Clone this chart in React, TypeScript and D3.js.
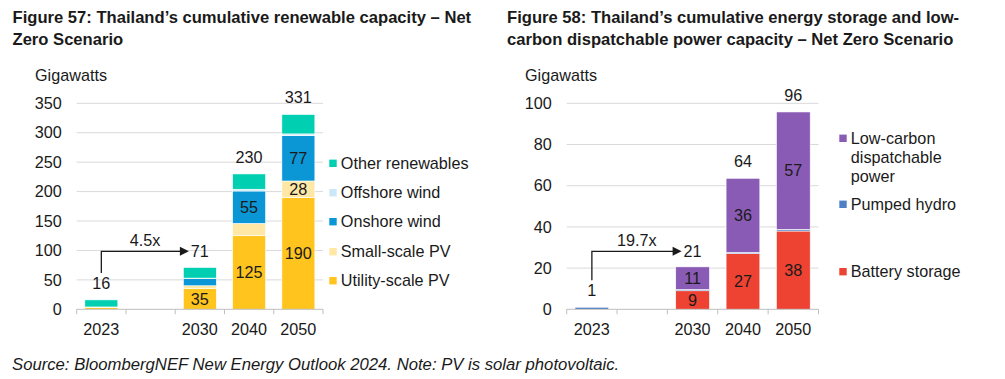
import React from "react";
import * as d3 from "d3";

// ---------- Data ----------
const leftCategories = ["2023", "gap", "2030", "2040", "2050"];
const leftCategoryLabels = ["2023", "", "2030", "2040", "2050"];
const leftSeriesNames = ["Utility-scale PV", "Small-scale PV", "Onshore wind", "Offshore wind", "Other renewables"];
const utilityPV = [3, 0, 35, 125, 190];
const smallPV = [1, 0, 5, 21, 28];
const onshoreWind = [0, 0, 12, 55, 77];
const offshoreWind = [0, 0, 1, 3, 3];
const otherRenewables = [12, 0, 18, 26, 33];
const leftTicks = [0, 50, 100, 150, 200, 250, 300, 350];
const leftLabelled: Record<string, string[]> = {
  "Utility-scale PV": ["2030", "2040", "2050"],
  "Small-scale PV": ["2050"],
  "Onshore wind": ["2040", "2050"],
};

const rightCategories = ["2023", "gap", "2030", "2040", "2050"];
const rightCategoryLabels = ["2023", "", "2030", "2040", "2050"];
const rightSeriesNames = ["Battery storage", "Pumped hydro", "Low-carbon dispatchable power"];
const batteryStorage = [0, 0, 9, 27, 38];
const pumpedHydro = [1, 0, 0.6, 0.6, 0.8];
const lowCarbon = [0, 0, 11, 36, 57];
const rightTicks = [0, 20, 40, 60, 80, 100];
const rightLabelled: Record<string, string[]> = {
  "Battery storage": ["2030", "2040", "2050"],
  "Low-carbon dispatchable power": ["2030", "2040", "2050"],
};

const leftGrowth = "4.5x";
const rightGrowth = "19.7x";

// ---------- Styles ----------
const FONT = "'Liberation Sans', Arial, Helvetica, sans-serif";
const TEXT = "#1a1a1a";
const GRID = "#d9d9d9";
const AXIS = "#bfbfbf";
const FS = 16.2;
const leftColors: Record<string, string> = {
  "Utility-scale PV": "#ffc51e",
  "Small-scale PV": "#ffe8a6",
  "Onshore wind": "#0b97d5",
  "Offshore wind": "#cce8f6",
  "Other renewables": "#00cfb2",
};
const rightColors: Record<string, string> = {
  "Battery storage": "#ee4233",
  "Pumped hydro": "#4d80c4",
  "Low-carbon dispatchable power": "#8a5bb4",
};

type PanelProps = {
  categories: string[];
  catLabels: string[];
  seriesNames: string[];
  values: number[][];
  colors: Record<string, string>;
  labelled: Record<string, string[]>;
  ticks: number[];
  yMax: number;
  x0: number;
  x1: number;
  growth: string;
  legend: { name: string; lines: string[]; y: number }[];
  legendX: number;
};

function Panel(p: PanelProps) {
  const top = 103.3;
  const bottom = 309.3;
  const y = d3.scaleLinear().domain([0, p.yMax]).range([bottom, top]);
  const x = d3
    .scaleBand<string>()
    .domain(p.categories)
    .range([p.x0, p.x1])
    .paddingInner(0.33)
    .paddingOuter(0.165);
  const step = x.step();
  const bw = x.bandwidth();
  const boundaries = d3.range(p.categories.length + 1).map((i) => p.x0 + i * step);

  const rows = p.categories.map((c, i) => {
    const r: any = { cat: c };
    p.seriesNames.forEach((s, j) => (r[s] = p.values[j][i]));
    return r;
  });
  const stacked = d3.stack<any>().keys(p.seriesNames)(rows);
  const totals = p.categories.map((_, i) => d3.sum(p.values, (v) => v[i]));

  const cx = (c: string) => (x(c) as number) + bw / 2;
  const firstCat = p.categories[0];
  const targetCat = p.categories[2];
  const arrowY = top + 148;
  const firstTop = y(totals[0]);
  const targetLabel = String(Math.round(totals[2]));
  const targetLabelW = targetLabel.length * 9;
  const tipX = cx(targetCat) - targetLabelW / 2 - 2;

  return (
    <g fontFamily={FONT}>
      {p.ticks.map((t) => (
        <g key={t}>
          {t !== 0 && <line x1={p.x0} x2={p.x1} y1={y(t)} y2={y(t)} stroke={GRID} strokeWidth={1} />}
          <text x={p.x0 - 15} y={y(t)} dy="0.35em" textAnchor="end" fontSize={FS} fill={TEXT}>
            {t}
          </text>
        </g>
      ))}
      <text x={p.x0 - 41.7} y={80.7} fontSize={FS} fill={TEXT}>
        Gigawatts
      </text>
      {stacked.map((layer) => (
        <g key={layer.key} fill={p.colors[layer.key]}>
          {layer.map((d, i) => {
            const h = y(d[0]) - y(d[1]);
            if (h <= 0) return null;
            return (
              <rect
                key={i}
                x={x(p.categories[i])}
                width={bw}
                y={y(d[1])}
                height={h}
                stroke="#ffffff"
                strokeWidth={0.6}
              />
            );
          })}
        </g>
      ))}
      {stacked.map((layer) =>
        layer.map((d, i) => {
          const cat = p.categories[i];
          if (!(p.labelled[layer.key] || []).includes(cat)) return null;
          return (
            <text
              key={layer.key + i}
              x={cx(cat)}
              y={(y(d[0]) + y(d[1])) / 2}
              dy="0.35em"
              textAnchor="middle"
              fontSize={FS}
              fill={TEXT}
            >
              {Math.round(d[1] - d[0])}
            </text>
          );
        })
      )}
      {p.categories.map((c, i) => {
        if (i === 1 || i === 2) return null;
        return (
          <text key={c} x={cx(c)} y={y(totals[i]) - 11} textAnchor="middle" fontSize={FS} fill={TEXT}>
            {Math.round(totals[i])}
          </text>
        );
      })}
      <path
        d={`M${cx(firstCat)},${firstTop - 27} V${arrowY} H${tipX - 8}`}
        fill="none"
        stroke={TEXT}
        strokeWidth={1.3}
      />
      <path d={`M${tipX - 9},${arrowY - 4.5} L${tipX},${arrowY} L${tipX - 9},${arrowY + 4.5} Z`} fill={TEXT} />
      <text x={(cx(firstCat) + tipX) / 2} y={arrowY - 5} textAnchor="middle" fontSize={FS} fill={TEXT}>
        {p.growth}
      </text>
      <text x={cx(targetCat)} y={arrowY} dy="0.35em" textAnchor="middle" fontSize={FS} fill={TEXT}>
        {targetLabel}
      </text>
      <line x1={p.x0} x2={p.x1} y1={bottom} y2={bottom} stroke={AXIS} strokeWidth={1} />
      {boundaries.map((b, i) => (
        <line key={i} x1={b} x2={b} y1={bottom} y2={bottom + 5} stroke={AXIS} strokeWidth={1} />
      ))}
      {p.categories.map((c, i) => (
        <text key={c} x={cx(c)} y={335} textAnchor="middle" fontSize={FS} fill={TEXT}>
          {p.catLabels[i]}
        </text>
      ))}
      {p.legend.map((l) => (
        <g key={l.name}>
          <rect x={p.legendX} y={l.y - 3.7} width={7.4} height={7.4} fill={p.colors[l.name]} />
          {l.lines.map((line, k) => (
            <text key={k} x={p.legendX + 11.5} y={l.y + k * 19.2} dy="0.35em" fontSize={FS} fill={TEXT}>
              {line}
            </text>
          ))}
        </g>
      ))}
    </g>
  );
}

export default function App() {
  return (
    <svg
      width={1005}
      height={379}
      style={{ position: "absolute", left: 0, top: 0, background: "#ffffff" }}
    >
      <rect width={1005} height={379} fill="#ffffff" />
      <g fontFamily={FONT} fontWeight="bold" fontSize={16.6} fill={TEXT}>
        <text x={12.5} y={22.7}>Figure 57: Thailand’s cumulative renewable capacity – Net</text>
        <text x={12.5} y={45}>Zero Scenario</text>
        <text x={507} y={22.7}>Figure 58: Thailand’s cumulative energy storage and low-</text>
        <text x={507} y={45}>carbon dispatchable power capacity – Net Zero Scenario</text>
      </g>
      <Panel
        categories={leftCategories}
        catLabels={leftCategoryLabels}
        seriesNames={leftSeriesNames}
        values={[utilityPV, smallPV, onshoreWind, offshoreWind, otherRenewables]}
        colors={leftColors}
        labelled={leftLabelled}
        ticks={leftTicks}
        yMax={350}
        x0={76.7}
        x1={323}
        growth={leftGrowth}
        legendX={329.3}
        legend={[
          { name: "Other renewables", lines: ["Other renewables"], y: 163.3 },
          { name: "Offshore wind", lines: ["Offshore wind"], y: 192.7 },
          { name: "Onshore wind", lines: ["Onshore wind"], y: 221.7 },
          { name: "Small-scale PV", lines: ["Small-scale PV"], y: 251.7 },
          { name: "Utility-scale PV", lines: ["Utility-scale PV"], y: 280.7 },
        ]}
      />
      <Panel
        categories={rightCategories}
        catLabels={rightCategoryLabels}
        seriesNames={rightSeriesNames}
        values={[batteryStorage, pumpedHydro, lowCarbon]}
        colors={rightColors}
        labelled={rightLabelled}
        ticks={rightTicks}
        yMax={100}
        x0={566.7}
        x1={818.5}
        growth={rightGrowth}
        legendX={839.3}
        legend={[
          {
            name: "Low-carbon dispatchable power",
            lines: ["Low-carbon", "dispatchable", "power"],
            y: 138.3,
          },
          { name: "Pumped hydro", lines: ["Pumped hydro"], y: 204.3 },
          { name: "Battery storage", lines: ["Battery storage"], y: 271.7 },
        ]}
      />
      <text x={12} y={370} fontFamily={FONT} fontStyle="italic" fontSize={16.7} fill={TEXT}>
        Source: BloombergNEF New Energy Outlook 2024. Note: PV is solar photovoltaic.
      </text>
    </svg>
  );
}
